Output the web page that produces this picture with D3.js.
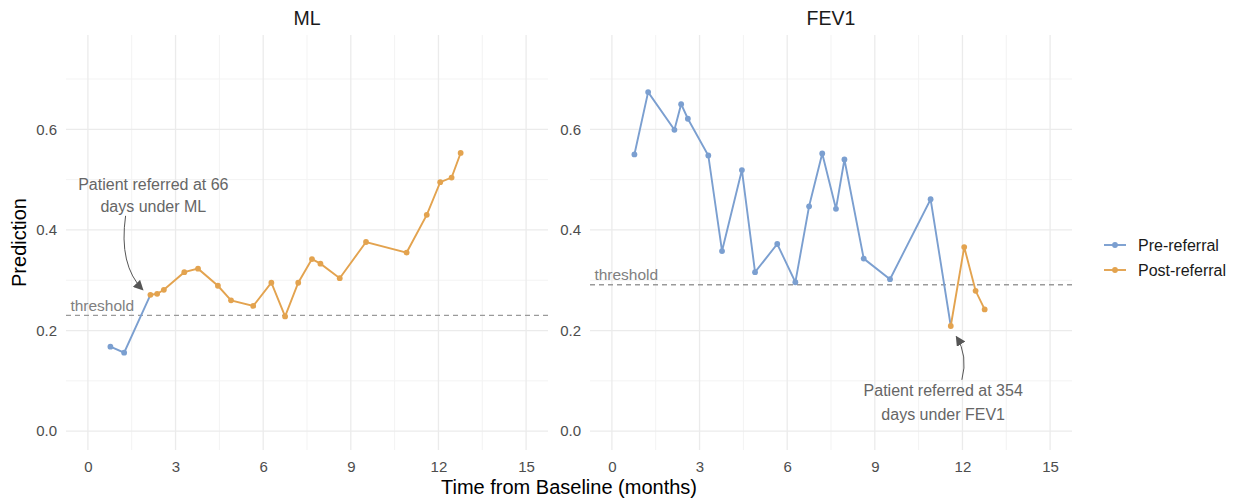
<!DOCTYPE html>
<html>
<head>
<meta charset="utf-8">
<script src="https://cdn.jsdelivr.net/npm/d3@7"></script>
<style>
  body { margin: 0; background: #fff; }
  svg text { font-family: "Liberation Sans", Arial, sans-serif; }
</style>
</head>
<body>
<div id="chart"></div>
<script>
// shared visit times (months from baseline)
const times = [0.77, 1.24, 2.14, 2.37, 2.60, 3.30, 3.77, 4.45, 4.90, 5.66, 6.28, 6.75, 7.20, 7.67, 7.96, 8.62, 9.52, 10.91, 11.60, 12.06, 12.45, 12.76];
const mlValues = [0.168, 0.156, 0.271, 0.273, 0.281, 0.316, 0.323, 0.289, 0.260, 0.249, 0.295, 0.228, 0.295, 0.342, 0.333, 0.304, 0.376, 0.355, 0.430, 0.495, 0.504, 0.553];
const fevValues = [0.550, 0.674, 0.599, 0.650, 0.621, 0.548, 0.358, 0.519, 0.316, 0.372, 0.296, 0.447, 0.552, 0.442, 0.540, 0.343, 0.302, 0.461, 0.209, 0.366, 0.279, 0.242];
const panelNames = ['ML', 'FEV1'];
const referralIndex = [2, 18];
const thresholds = [0.23, 0.291];
const noteLines = [['Patient referred at 66', 'days under ML'], ['Patient referred at 354', 'days under FEV1']];
const xTicks = [0, 3, 6, 9, 12, 15];
const yTicks = [0, 0.2, 0.4, 0.6];
const legendLabels = ['Pre-referral', 'Post-referral'];

const colors = {pre: '#7b9fd0', post: '#e3a34f'};
const width = 1241, height = 502;
const plotTop = 35, plotBottom = 450;
const panelX = [[66, 548], [590, 1072]];

const svg = d3.select('#chart').append('svg')
  .attr('width', width)
  .attr('height', height);

const y = d3.scaleLinear().domain([-0.0375, 0.7875]).range([plotBottom, plotTop]);

const defs = svg.append('defs');
defs.append('marker')
  .attr('id', 'arrow')
  .attr('viewBox', '0 0 10 10')
  .attr('refX', 9).attr('refY', 5)
  .attr('markerWidth', 10).attr('markerHeight', 10)
  .attr('markerUnits', 'userSpaceOnUse')
  .attr('orient', 'auto')
  .append('path')
    .attr('d', 'M0,0 L10,5 L0,10 z')
    .attr('fill', '#555');

const series = [mlValues, fevValues];
// annotation anchors: [text x, line1 y, line2 y], arrow [x0,y0,cx,cy,x1,y1]
const noteText = [[2.24, 0.491, 0.446], [11.34, 0.080, 0.034]];
const noteArrow = [[1.29, 0.428, 1.05, 0.33, 1.88, 0.281], [11.98, 0.102, 12.2, 0.15, 11.79, 0.188]];

panelNames.forEach((name, p) => {
  const x = d3.scaleLinear().domain([-0.75, 15.75]).range(panelX[p]);
  const g = svg.append('g');

  // minor grid
  g.selectAll('.minorx')
    .data([1.5, 4.5, 7.5, 10.5, 13.5])
    .enter().append('line')
      .attr('x1', d => x(d)).attr('x2', d => x(d))
      .attr('y1', plotTop).attr('y2', plotBottom)
      .attr('stroke', '#f3f3f3').attr('stroke-width', 1);
  g.selectAll('.minory')
    .data([0.1, 0.3, 0.5, 0.7])
    .enter().append('line')
      .attr('x1', panelX[p][0]).attr('x2', panelX[p][1])
      .attr('y1', d => y(d)).attr('y2', d => y(d))
      .attr('stroke', '#f3f3f3').attr('stroke-width', 1);
  // major grid
  g.selectAll('.majorx')
    .data(xTicks)
    .enter().append('line')
      .attr('x1', d => x(d)).attr('x2', d => x(d))
      .attr('y1', plotTop).attr('y2', plotBottom)
      .attr('stroke', '#ebebeb').attr('stroke-width', 1.3);
  g.selectAll('.majory')
    .data(yTicks)
    .enter().append('line')
      .attr('x1', panelX[p][0]).attr('x2', panelX[p][1])
      .attr('y1', d => y(d)).attr('y2', d => y(d))
      .attr('stroke', '#ebebeb').attr('stroke-width', 1.3);

  // axes
  const xAxis = g.append('g')
    .attr('transform', 'translate(0,' + (plotBottom + 4) + ')')
    .call(d3.axisBottom(x).tickValues(xTicks).tickSize(0).tickPadding(7));
  const yAxis = g.append('g')
    .attr('transform', 'translate(' + (panelX[p][0] - 5) + ',0)')
    .call(d3.axisLeft(y).tickValues(yTicks).tickSize(0).tickPadding(4).tickFormat(d3.format('.1f')));
  [xAxis, yAxis].forEach(a => {
    a.select('.domain').remove();
    a.selectAll('text')
      .attr('font-size', 15)
      .attr('fill', '#4d4d4d')
      .style('font-family', '"Liberation Sans", Arial, sans-serif');
  });

  // panel title
  g.append('text')
    .attr('x', (panelX[p][0] + panelX[p][1]) / 2)
    .attr('y', 25)
    .attr('text-anchor', 'middle')
    .attr('font-size', 19.5)
    .attr('fill', '#1a1a1a')
    .text(name);

  // threshold
  g.append('line')
    .attr('x1', panelX[p][0]).attr('x2', panelX[p][1])
    .attr('y1', y(thresholds[p])).attr('y2', y(thresholds[p]))
    .attr('stroke', '#9a9a9a')
    .attr('stroke-width', 1.3)
    .attr('stroke-dasharray', '5,4');
  g.append('text')
    .attr('x', x(-0.6))
    .attr('y', y(thresholds[p] + 0.02))
    .attr('dy', '0.35em')
    .attr('font-size', 15.5)
    .attr('fill', '#808080')
    .text('threshold');

  // data
  const data = times.map((t, i) => ({t: t, v: series[p][i], i: i}));
  const k = referralIndex[p];
  const line = d3.line().x(d => x(d.t)).y(d => y(d.v));
  g.append('path')
    .datum(data.filter(d => d.i <= k))
    .attr('d', line)
    .attr('fill', 'none')
    .attr('stroke', colors.pre)
    .attr('stroke-width', 1.9);
  g.append('path')
    .datum(data.filter(d => d.i >= k))
    .attr('d', line)
    .attr('fill', 'none')
    .attr('stroke', colors.post)
    .attr('stroke-width', 1.9);
  g.selectAll('.pt')
    .data(data)
    .enter().append('circle')
      .attr('cx', d => x(d.t))
      .attr('cy', d => y(d.v))
      .attr('r', 2.9)
      .attr('fill', d => d.i < k ? colors.pre : colors.post);

  // annotation
  const nt = noteText[p];
  g.append('text')
    .attr('x', x(nt[0])).attr('y', y(nt[1]))
    .attr('dy', '0.35em')
    .attr('text-anchor', 'middle')
    .attr('font-size', 16)
    .attr('fill', '#666')
    .text(noteLines[p][0]);
  g.append('text')
    .attr('x', x(nt[0])).attr('y', y(nt[2]))
    .attr('dy', '0.35em')
    .attr('text-anchor', 'middle')
    .attr('font-size', 16)
    .attr('fill', '#666')
    .text(noteLines[p][1]);
  const na = noteArrow[p];
  g.append('path')
    .attr('d', 'M' + x(na[0]) + ',' + y(na[1]) + ' Q' + x(na[2]) + ',' + y(na[3]) + ' ' + x(na[4]) + ',' + y(na[5]))
    .attr('fill', 'none')
    .attr('stroke', '#555')
    .attr('stroke-width', 1)
    .attr('marker-end', 'url(#arrow)');
});

// axis titles
svg.append('text')
  .attr('x', (panelX[0][0] + panelX[1][1]) / 2)
  .attr('y', 494)
  .attr('text-anchor', 'middle')
  .attr('font-size', 20)
  .attr('fill', '#000')
  .text('Time from Baseline (months)');
svg.append('text')
  .attr('transform', 'translate(26,' + ((plotTop + plotBottom) / 2) + ') rotate(-90)')
  .attr('text-anchor', 'middle')
  .attr('font-size', 20)
  .attr('fill', '#000')
  .text('Prediction');

// legend
const legend = svg.append('g');
legendLabels.forEach((lab, i) => {
  const ly = 245 + i * 25;
  const c = i === 0 ? colors.pre : colors.post;
  legend.append('line')
    .attr('x1', 1104).attr('x2', 1126)
    .attr('y1', ly).attr('y2', ly)
    .attr('stroke', c).attr('stroke-width', 1.9);
  legend.append('circle')
    .attr('cx', 1115).attr('cy', ly).attr('r', 2.9)
    .attr('fill', c);
  legend.append('text')
    .attr('x', 1138).attr('y', ly)
    .attr('dy', '0.35em')
    .attr('font-size', 16)
    .attr('fill', '#1a1a1a')
    .text(lab);
});
</script>
</body>
</html>
